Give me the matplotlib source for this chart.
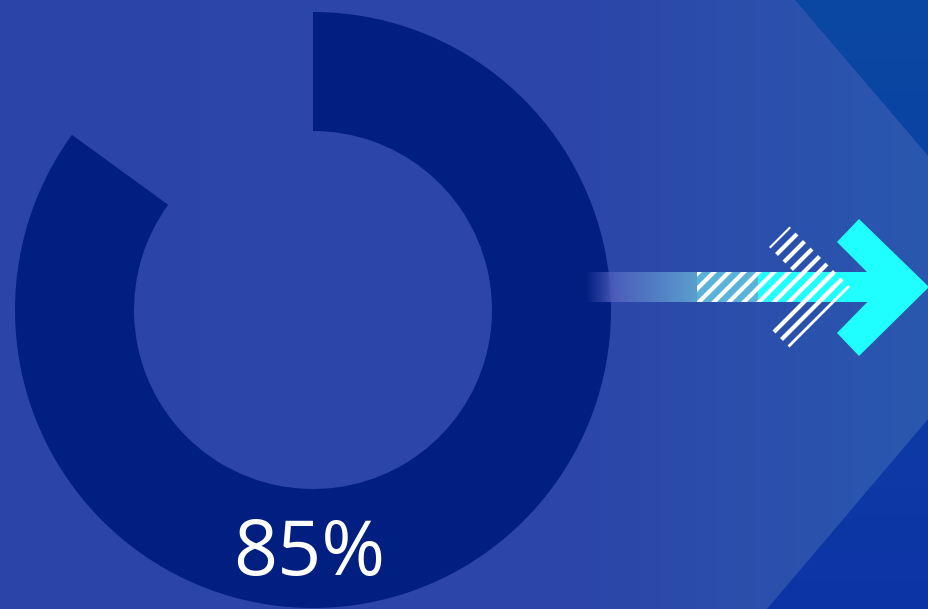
import numpy as np
import matplotlib.pyplot as plt
from matplotlib.patches import Polygon, Rectangle
from matplotlib.collections import LineCollection

W, H = 929, 609

# share shown in the ring (done vs. not done)
share_values = [85, 15]
share_colors = ['#001f80', 'none']
share_label = f"{share_values[0]}%"

BG_LEFT = [(0, (43, 68, 168)), (600, (44, 71, 169)), (929, (42, 88, 175))]
BG_OUTER = [(0, (10, 72, 162)), (609, (14, 52, 166))]
CYAN = '#20ffff'


def Y(y):
    # pixel row (top-down) -> data y (bottom-up)
    return H - y


def ramp(stops, pos):
    xs = [s[0] for s in stops]
    out = np.stack([np.interp(pos, xs, [s[1][c] for s in stops]) for c in range(3)], axis=-1)
    return out / 255.0


fig = plt.figure(figsize=(W / 100, H / 100), dpi=100)
ax = fig.add_axes([0, 0, 1, 1])

# --- background: lighter chevron band over a darker blue ---
yy, xx = np.mgrid[0:H, 0:W] + 0.5
inner = ramp(BG_LEFT, xx)
outer = ramp(BG_OUTER, yy)
d_top = ((xx - 795) * 287 - yy * 245) / np.hypot(287, 245)
d_bot = -((xx - 767) * -322 - (yy - 609) * 273) / np.hypot(322, 273)
cov = np.clip(np.maximum(d_top, d_bot) + 0.5, 0, 1)[..., None]
bg = inner * (1 - cov) + outer * cov
ax.imshow(bg, extent=(0, W, 0, H), origin='upper', zorder=0, interpolation='bilinear')

# --- donut ---
ax.pie(share_values, colors=share_colors, startangle=90, counterclock=False,
       center=(313, Y(310)), radius=298,
       wedgeprops=dict(width=119, linewidth=0), frame=True)

ax.text(309, Y(575), share_label, color='white', fontsize=55.5,
        family='Open Sans', ha='center', va='baseline', zorder=6)

# --- arrow shaft: fading tail, light blue section, cyan section ---
top, bot = 272, 302
n = 200
xs = np.linspace(585, 697, n)
tail = np.zeros((1, n, 4))
tail[0, :, :3] = ramp([(585, (60, 75, 175)), (612, (75, 92, 185)), (697, (90, 158, 206))], xs)
tail[0, :, 3] = np.clip((xs - 585) / 30, 0, 1)
ax.imshow(tail, extent=(585, 697, Y(bot), Y(top)), origin='upper', zorder=3,
          interpolation='bilinear', aspect='auto')
ax.add_patch(Rectangle((697, Y(bot)), 61, bot - top, color='#5ab4da', lw=0, zorder=3))
ax.add_patch(Rectangle((758, Y(bot)), 882 - 758, bot - top, color=CYAN, lw=0, zorder=3))

# arrow head
head = [(837, 242), (859, 219), (929, 287), (859, 356), (837, 333), (882, 287)]
ax.add_patch(Polygon([(x, Y(y)) for x, y in head], closed=True, color=CYAN, lw=0, zorder=4))

# --- white "/" stripes, clipped to the shaft and a chevron ---
chev = [(789.5, 226.5), (850, 287), (789.5, 347.5), (769, 327), (809, 287), (769, 247)]
chev_patch = Polygon([(x, Y(y)) for x, y in chev], closed=True, fill=False, lw=0)
shaft_patch = Rectangle((697, Y(bot)), 835 - 697, bot - top, fill=False, lw=0)
ax.add_patch(chev_patch)
ax.add_patch(shaft_patch)

segs = []
for c in np.arange(1016 - 15 * 5, 1016 + 15 * 9, 15):
    x0, x1 = 650, 900
    segs.append([(x0, Y(c - x0)), (x1, Y(c - x1))])
for clip in (shaft_patch, chev_patch):
    lc = LineCollection(segs, colors='white', linewidths=3.0, capstyle='butt', zorder=5)
    ax.add_collection(lc)
    lc.set_clip_path(clip)

ax.set_xlim(0, W)
ax.set_ylim(0, H)
ax.set_aspect('auto')
ax.axis('off')

fig.savefig('out.png', dpi=100)
